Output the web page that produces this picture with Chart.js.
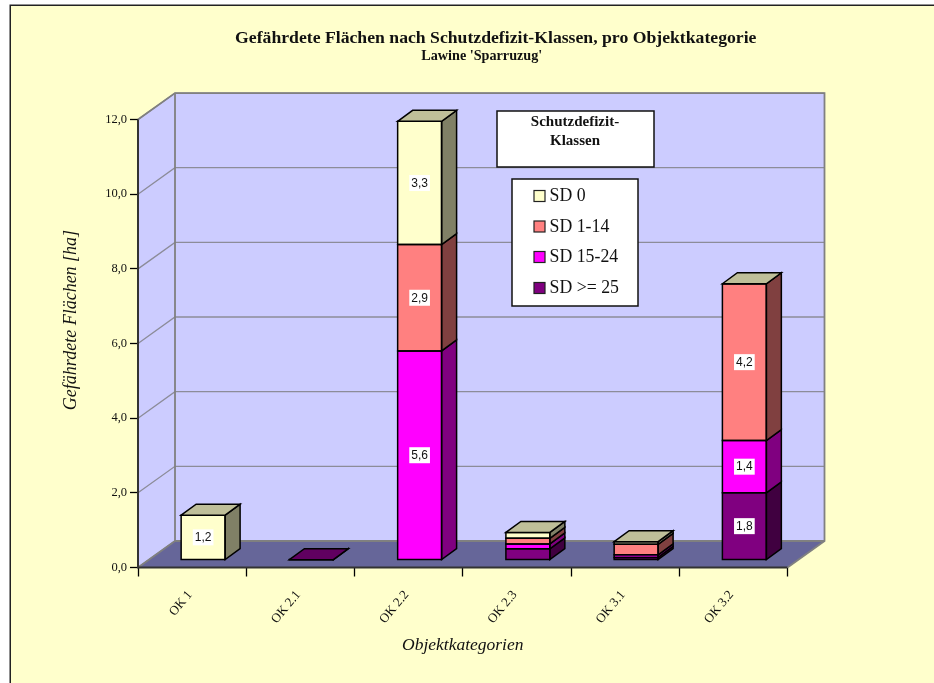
<!DOCTYPE html>
<html><head><meta charset="utf-8">
<style>html,body{margin:0;padding:0;background:#fff}canvas{display:block}</style>
<script src="https://cdn.jsdelivr.net/npm/chart.js@4"></script>
</head><body><div style="width:934px;height:683px;position:relative"><canvas id="c" width="934" height="683"></canvas></div>
<script>
const categories = ['OK 1','OK 2.1','OK 2.2','OK 2.3','OK 3.1','OK 3.2'];
const sd25   = [null,0.01,null,0.3,0.07,1.8];
const sd15   = [null,null,5.6,0.13,0.07,1.4];
const sd1    = [null,null,2.85,0.15,0.28,4.2];
const sd0    = [1.2,null,3.3,0.16,0.07,0];
const yTicks = [0,2,4,6,8,10,12];
const seriesNames = ['SD >= 25','SD 15-24','SD 1-14','SD 0'];
const seriesColors = ['#800080','#FF00FF','#FF8080','#FFFFCC'];
const titleText = "Gefährdete Flächen nach Schutzdefizit-Klassen, pro Objektkategorie";
const subtitleText = "Lawine 'Sparruzug'";
const yTitle = 'Gefährdete Flächen [ha]';
const xTitle = 'Objektkategorien';
const boxTitle = ['Schutzdefizit-','Klassen'];
const SERIF = '"Liberation Serif","Times New Roman",serif';
const SANS = '"Liberation Sans",Arial,sans-serif';
const DEPTH = {x:37,y:-26.5};
const BAR_SHIFT = {x:11,y:-7.5};
const SIDE = {x:15,y:-11};

function shade(hex,f){
  const n=parseInt(hex.slice(1),16);
  return 'rgb('+[(n>>16)&255,(n>>8)&255,n&255].map(v=>Math.round(v*f)).join(',')+')';
}
function poly(ctx,pts,fill,stroke,lw){
  ctx.beginPath();pts.forEach((p,i)=>i?ctx.lineTo(p[0],p[1]):ctx.moveTo(p[0],p[1]));ctx.closePath();
  if(fill){ctx.fillStyle=fill;ctx.fill();}
  if(stroke){ctx.strokeStyle=stroke;ctx.lineWidth=lw;ctx.lineJoin='miter';ctx.stroke();}
}
const scene = {
  id:'scene',
  afterLayout(chart){
    // headings are centred further right than the layout box
    chart.boxes.forEach(b=>{
      if(!b.options) return;
      if(b.options.text===titleText){ b.left+=97; b.right+=97; }
      if(b.options.text===subtitleText){ b.left+=83; b.right+=83; }
    });
    const y=chart.scales.y;
    if(!y.__patched){
      const orig=y.drawTitle;
      y.drawTitle=function(){const c=this.ctx;c.save();c.translate(0,-23.5);orig.apply(this,arguments);c.restore();};
      y.__patched=true;
    }
  },
  beforeDraw(chart){
    const {ctx}=chart;
    ctx.save();
    ctx.fillStyle='#FFFFCC';ctx.fillRect(10,5,924,678);
    ctx.strokeStyle='#222';ctx.lineWidth=1.5;
    ctx.beginPath();ctx.moveTo(10.25,683);ctx.lineTo(10.25,5.25);ctx.lineTo(934,5.25);ctx.stroke();
    ctx.restore();
  },
  beforeDatasetsDraw(chart){
    const {ctx,scales:{x,y}}=chart;
    const L=x.left,R=x.right,T=y.getPixelForValue(12),B=y.getPixelForValue(0);
    const dx=DEPTH.x,dy=DEPTH.y;
    ctx.save();
    poly(ctx,[[L+dx,T+dy],[R+dx,T+dy],[R+dx,B+dy],[L+dx,B+dy]],'#CCCCFF');
    poly(ctx,[[L,T],[L+dx,T+dy],[L+dx,B+dy],[L,B]],'#CCCCFF');
    ctx.strokeStyle='#8c8c99';ctx.lineWidth=1.3;
    yTicks.forEach(v=>{
      const p=y.getPixelForValue(v);
      ctx.beginPath();ctx.moveTo(L,p);ctx.lineTo(L+dx,p+dy);ctx.lineTo(R+dx,p+dy);ctx.stroke();
    });
    poly(ctx,[[L,B],[R,B],[R+dx,B+dy],[L+dx,B+dy]],'#666699');
    ctx.strokeStyle='#808080';ctx.lineWidth=1.8;
    ctx.beginPath();ctx.moveTo(L,T);ctx.lineTo(L+dx,T+dy);ctx.lineTo(R+dx,T+dy);ctx.lineTo(R+dx,B+dy);ctx.lineTo(R,B);ctx.stroke();
    ctx.beginPath();ctx.moveTo(L+dx,T+dy);ctx.lineTo(L+dx,B+dy);ctx.lineTo(R+dx,B+dy);ctx.stroke();
    ctx.beginPath();ctx.moveTo(L+dx,B+dy);ctx.lineTo(L,B);ctx.stroke();
    ctx.strokeStyle='#333';ctx.lineWidth=2;
    ctx.beginPath();ctx.moveTo(L,T);ctx.lineTo(L,B);ctx.lineTo(R,B);ctx.stroke();
    ctx.restore();
    ctx.save();
    ctx.translate(BAR_SHIFT.x,BAR_SHIFT.y);
  },
  afterDatasetsDraw(chart){
    const {ctx}=chart;
    const sx=SIDE.x,sy=SIDE.y;
    categories.forEach((cat,i)=>{
      let top=null;
      chart.data.datasets.forEach((ds,d)=>{
        if(ds.data[i]===null) return;
        const el=chart.getDatasetMeta(d).data[i];
        const r=el.x+el.width/2,l=el.x-el.width/2;
        poly(ctx,[[r,el.y],[r+sx,el.y+sy],[r+sx,el.base+sy],[r,el.base]],shade(ds.backgroundColor,0.5),'#000',1.5);
        poly(ctx,[[l,el.y],[r,el.y],[r,el.base],[l,el.base]],null,'#000',1.5);
        top={el,color:ds.backgroundColor};
      });
      if(top){
        const e=top.el,l=e.x-e.width/2,r=e.x+e.width/2;
        poly(ctx,[[l,e.y],[l+sx,e.y+sy],[r+sx,e.y+sy],[r,e.y]],shade(top.color,0.75),'#000',1.5);
      }
    });
    ctx.font='12px '+SANS;ctx.textAlign='center';ctx.textBaseline='middle';
    chart.data.datasets.forEach((ds,d)=>{
      ds.data.forEach((v,i)=>{
        if(v===null||v<1) return;
        const el=chart.getDatasetMeta(d).data[i];
        const t=v.toFixed(1).replace('.',',');
        const cy=(el.y+el.base)/2;
        const w=ctx.measureText(t).width+4;
        ctx.fillStyle='#fff';ctx.fillRect(el.x-w/2,cy-8,w,16);
        ctx.fillStyle='#111';ctx.fillText(t,el.x,cy+0.5);
      });
    });
    ctx.restore();
  },
  afterDraw(chart){
    const {ctx}=chart;
    ctx.save();
    ctx.fillStyle='#fff';ctx.fillRect(497,111,157,56);
    ctx.strokeStyle='#111';ctx.lineWidth=1.5;ctx.strokeRect(497,111,157,56);
    ctx.fillStyle='#111';ctx.font='bold 15px '+SERIF;ctx.textAlign='center';ctx.textBaseline='middle';
    boxTitle.forEach((t,i)=>ctx.fillText(t,575,122+i*19.5));
    ctx.fillStyle='#fff';ctx.fillRect(512,179,126,127);
    ctx.strokeRect(512,179,126,127);
    ctx.font='17.8px '+SERIF;ctx.textAlign='left';
    const rowY=[196,226.5,257,288];
    [...seriesNames].reverse().forEach((n,i)=>{
      const col=seriesColors[seriesNames.length-1-i];
      ctx.fillStyle=col;ctx.fillRect(534,rowY[i]-5.5,11,11);
      ctx.strokeStyle='#222';ctx.lineWidth=1.2;ctx.strokeRect(534,rowY[i]-5.5,11,11);
      ctx.fillStyle='#111';ctx.fillText(n,549.5,rowY[i]+0.5);
    });
    ctx.restore();
  }
};
const datasets = seriesNames.map((n,i)=>({
  label:n,
  data:[sd25,sd15,sd1,sd0][i],
  backgroundColor:seriesColors[i],
  borderWidth:0,
  barPercentage:0.406,
  categoryPercentage:1,
  stack:'s'
}));
new Chart(document.getElementById('c'),{
  type:'bar',
  data:{labels:categories,datasets},
  plugins:[scene],
  options:{
    responsive:false,animation:false,
    layout:{padding:{left:10,right:146.5,top:27.5,bottom:0}},
    plugins:{
      legend:{display:false},
      tooltip:{enabled:false},
      title:{display:true,text:titleText,color:'#111',font:{family:SERIF,size:17.7,weight:'bold'},padding:{top:0,bottom:0}},
      subtitle:{display:true,text:subtitleText,color:'#111',font:{family:SERIF,size:14.2,weight:'bold',lineHeight:1},padding:{top:0,bottom:56.6}}
    },
    scales:{
      x:{
        stacked:true,
        afterFit(s){s.height=683-567.5;},
        border:{display:false},
        grid:{display:true,drawOnChartArea:false,offset:true,color:'#000',tickLength:9,tickWidth:1.3},
        ticks:{color:'#111',font:{family:SERIF,size:13},minRotation:50,maxRotation:50,padding:11,labelOffset:-2,autoSkip:false},
        title:{display:true,text:xTitle,color:'#111',font:{family:SERIF,size:17.5,style:'italic',weight:'normal'},padding:{top:0,bottom:27}}
      },
      y:{
        stacked:true,min:0,max:12,
        afterFit(s){s.width=128;},
        afterBuildTicks(s){s.ticks=yTicks.map(v=>({value:v}));},
        border:{display:false},
        grid:{display:true,drawOnChartArea:false,color:'#000',tickLength:8,tickWidth:1.3},
        ticks:{color:'#111',font:{family:SERIF,size:12.5},padding:3,callback:v=>v.toFixed(1).replace('.',',')},
        title:{display:true,text:yTitle,color:'#111',font:{family:SERIF,size:18,style:'italic',weight:'normal'},padding:{top:50,bottom:0}}
      }
    }
  }
});
</script></body></html>
